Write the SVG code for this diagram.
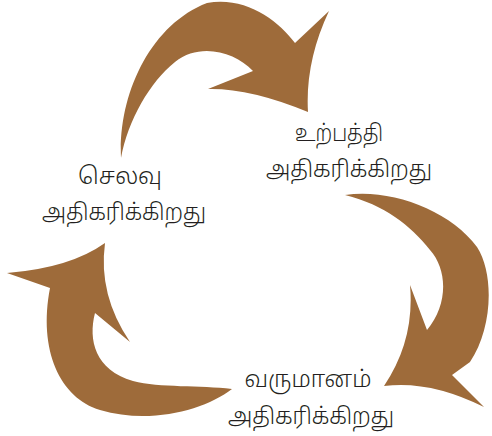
<svg xmlns="http://www.w3.org/2000/svg" width="492" height="436" viewBox="0 0 492 436">
<style>
.arrow{fill:#9E6B3A}
.lbl{font-family:"Noto Sans Tamil","Latha","Noto Sans","DejaVu Sans",sans-serif;font-size:23px;font-weight:300;fill:#231F20;text-anchor:middle}
</style>
<rect width="492" height="436" fill="#ffffff"/>
<g id="connectors">
<path id="arrow-top" class="arrow" d="M121,158 C118,95 150,25 207,3 C245,-4 278,20 295,43 L329,11 Q305,62 308,112 Q250,88 208,89 L253,71 C235,52 200,42 175,62 C150,82 128,120 121,158 Z"/>
<path id="arrow-right" class="arrow" d="M345,195 C390,188 450,210 477,247 C495,275 492,330 470,362 L452,375 L484,407 Q430,380 384,386 Q415,340 410,285 L427,330 C448,305 448,270 430,250 C410,225 385,205 345,195 Z"/>
<path id="arrow-left" class="arrow" d="M232,389 C205,410 150,425 100,410 C60,398 38,350 50,288 L7,273 Q70,268 105,243 Q98,295 130,342 L95,313 C88,340 95,370 133,381 C160,388 200,385 232,389 Z"/>
</g>
<g id="node-production">
<text class="lbl" x="339" y="141" textLength="88" lengthAdjust="spacingAndGlyphs">உற்பத்தி</text>
<text class="lbl" x="349" y="177" textLength="166" lengthAdjust="spacingAndGlyphs">அதிகரிக்கிறது</text>
</g>
<g id="node-expense">
<text class="lbl" x="120" y="184" textLength="84" lengthAdjust="spacingAndGlyphs">செலவு</text>
<text class="lbl" x="124" y="220" textLength="164" lengthAdjust="spacingAndGlyphs">அதிகரிக்கிறது</text>
</g>
<g id="node-income">
<text class="lbl" x="308" y="387" textLength="127" lengthAdjust="spacingAndGlyphs">வருமானம்</text>
<text class="lbl" x="311" y="424" textLength="166" lengthAdjust="spacingAndGlyphs">அதிகரிக்கிறது</text>
</g>
</svg>
